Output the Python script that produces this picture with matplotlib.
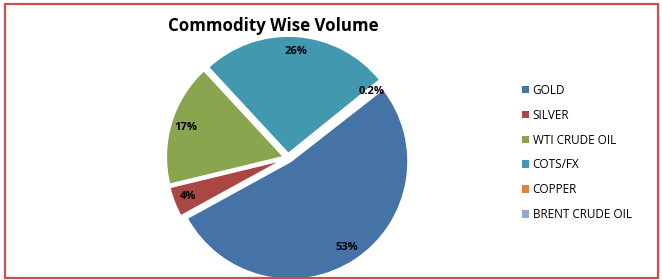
import matplotlib.pyplot as plt
from matplotlib.patches import Rectangle, Patch

# data
commodities = ["GOLD", "SILVER", "WTI CRUDE OIL", "COTS/FX", "COPPER", "BRENT CRUDE OIL"]
shares = [52.6, 4.2, 16.9, 26.1, 0.2, 0.05]
colors = ["#4572A7", "#AA4643", "#89A54E", "#4198AF", "#DB843D", "#93A9CF"]

plt.rcParams["font.family"] = ["Open Sans", "DejaVu Sans"]

W, H = 662, 280
fig = plt.figure(figsize=(W / 100, H / 100), dpi=100)

# pie axes: centre (288,158) px from top, radius 118 px
cx, cy, r = 288, H - 158, 118
ax = fig.add_axes([(cx - r) / W, (cy - r) / H, 2 * r / W, 2 * r / H])


def pct_label(p):
    if p < 0.1:
        return ""
    if p < 1:
        return "%.1f%%" % p
    return "%d%%" % round(p)


wedges, texts, autotexts = ax.pie(
    shares, colors=colors, startangle=38, counterclock=False,
    explode=[0.035] * len(shares), radius=1,
    autopct=pct_label, pctdistance=0.87,
    wedgeprops=dict(edgecolor="white", linewidth=1.5),
    textprops=dict(fontsize=8, fontweight="bold", color="black"))
ax.set_xlim(-1, 1)
ax.set_ylim(-1, 1)
ax.set_aspect("equal")
ax.axis("off")
for w in wedges:
    w.set_clip_on(False)
for t in autotexts:
    t.set_clip_on(False)

fig.text(273 / W, 1 - 26 / H, "Commodity Wise Volume", ha="center", va="center",
         fontsize=12.2, fontweight="bold")

handles = [Patch(facecolor=c, edgecolor="none") for c in colors]
fig.legend(handles, commodities, loc="upper left", bbox_to_anchor=(516 / W, 1 - 78 / H),
           frameon=False, fontsize=8.5, handlelength=0.6, handleheight=0.6,
           handletextpad=0.3, labelspacing=1.0, borderpad=0)

# red outer border
fig.add_artist(Rectangle((5 / W, 2 / H), 653 / W, 274 / H, transform=fig.transFigure,
                         fill=False, edgecolor="#C9504F", linewidth=1.6))

plt.savefig("out.png", dpi=100)
